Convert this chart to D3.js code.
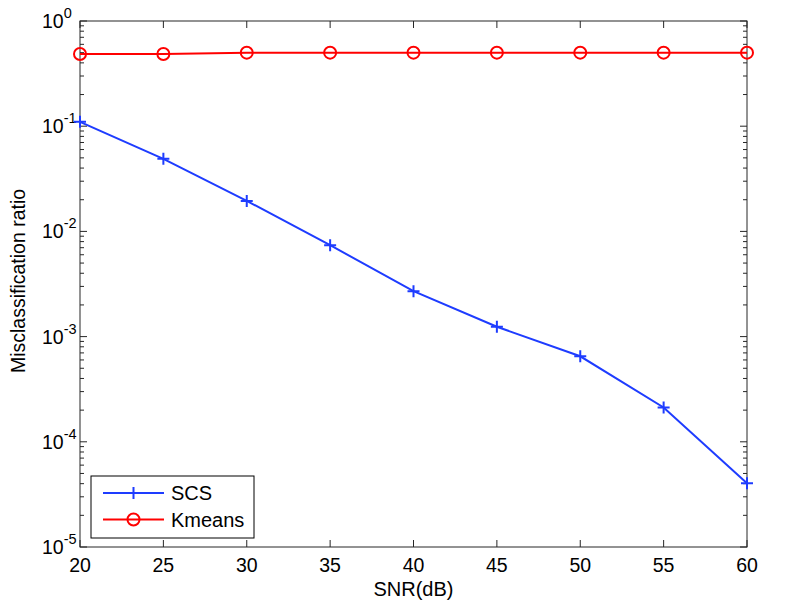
<!DOCTYPE html>
<html>
<head>
<meta charset="utf-8">
<script src="https://cdn.jsdelivr.net/npm/d3@7"></script>
<style>
  html, body { margin: 0; padding: 0; background: #fff; }
  text { font-family: "Liberation Sans", Arial, sans-serif; fill: #000; }
</style>
</head>
<body>
<svg id="chart" width="797" height="607"></svg>
<script>
// data
var snr = [20, 25, 30, 35, 40, 45, 50, 55, 60];
var scs = [0.11, 0.049, 0.0195, 0.0074, 0.0027, 0.00124, 0.00065, 0.000212, 0.0000403];
var kmeans = [0.485, 0.485, 0.5, 0.5, 0.5, 0.5, 0.5, 0.5, 0.5];
var xTicks = [20, 25, 30, 35, 40, 45, 50, 55, 60];
var yExps = [0, -1, -2, -3, -4, -5];
var seriesNames = ["SCS", "Kmeans"];

var blue = "#1e3cff", red = "#ff0000";

var pL = 80, pR = 747, pT = 21, pB = 547;
var svg = d3.select("#chart");

var x = d3.scaleLinear().domain([20, 60]).range([pL, pR]);
var y = d3.scaleLog().domain([1e-5, 1]).range([pB, pT]);

// minor log ticks
var minor = [];
for (var e = -5; e < 0; e++) {
  for (var m = 2; m <= 9; m++) minor.push(m * Math.pow(10, e));
}

var axes = svg.append("g").attr("stroke", "#262626").attr("stroke-width", 1);
axes.append("rect")
  .attr("x", pL).attr("y", pT)
  .attr("width", pR - pL).attr("height", pB - pT)
  .attr("fill", "none");

// x ticks bottom + top
xTicks.forEach(function (t) {
  axes.append("line").attr("x1", x(t)).attr("x2", x(t)).attr("y1", pB).attr("y2", pB - 7);
  axes.append("line").attr("x1", x(t)).attr("x2", x(t)).attr("y1", pT).attr("y2", pT + 7);
});
// y major ticks left + right
yExps.forEach(function (e) {
  var yy = y(Math.pow(10, e));
  axes.append("line").attr("x1", pL).attr("x2", pL + 7).attr("y1", yy).attr("y2", yy);
  axes.append("line").attr("x1", pR).attr("x2", pR - 7).attr("y1", yy).attr("y2", yy);
});
minor.forEach(function (v) {
  var yy = y(v);
  axes.append("line").attr("x1", pL).attr("x2", pL + 4).attr("y1", yy).attr("y2", yy);
  axes.append("line").attr("x1", pR).attr("x2", pR - 4).attr("y1", yy).attr("y2", yy);
});

// tick labels
svg.append("g").selectAll("text").data(xTicks).enter().append("text")
  .attr("x", function (d) { return x(d); })
  .attr("y", 572)
  .attr("text-anchor", "middle")
  .attr("font-size", 19.5)
  .text(function (d) { return d; });

var yl = svg.append("g").selectAll("text").data(yExps).enter().append("text")
  .attr("x", 42)
  .attr("y", function (d) { return y(Math.pow(10, d)) + 7; })
  .attr("font-size", 19.5);
yl.append("tspan").text("10");
yl.append("tspan").attr("dy", -10).attr("font-size", 14.5).text(function (d) { return d === 0 ? "0" : "-" + (-d); });

// axis titles
svg.append("text")
  .attr("x", (pL + pR) / 2).attr("y", 596)
  .attr("text-anchor", "middle").attr("font-size", 20)
  .text("SNR(dB)");
svg.append("text")
  .attr("transform", "translate(25,281) rotate(-90)")
  .attr("text-anchor", "middle").attr("font-size", 19.5)
  .text("Misclassification ratio");

// series
var line = d3.line()
  .x(function (d) { return x(d[0]); })
  .y(function (d) { return y(d[1]); });

var scsPts = d3.zip(snr, scs);
var kmPts = d3.zip(snr, kmeans);

var plot = svg.append("g");
plot.append("path").datum(kmPts).attr("d", line)
  .attr("fill", "none").attr("stroke", red).attr("stroke-width", 2);
plot.append("path").datum(scsPts).attr("d", line)
  .attr("fill", "none").attr("stroke", blue).attr("stroke-width", 2);

function plus(g, cx, cy, col) {
  g.append("path").attr("d", "M" + (cx - 6) + "," + cy + "h12M" + cx + "," + (cy - 6) + "v12")
    .attr("stroke", col).attr("stroke-width", 2).attr("fill", "none");
}
function circ(g, cx, cy, col) {
  g.append("circle").attr("cx", cx).attr("cy", cy).attr("r", 6)
    .attr("stroke", col).attr("stroke-width", 2).attr("fill", "none");
}
kmPts.forEach(function (d) { circ(plot, x(d[0]), y(d[1]), red); });
scsPts.forEach(function (d) { plus(plot, x(d[0]), y(d[1]), blue); });

// legend
var lg = svg.append("g");
lg.append("rect").attr("x", 91).attr("y", 476).attr("width", 163).attr("height", 62)
  .attr("fill", "#fff").attr("stroke", "#000").attr("stroke-width", 1);
var legCols = [blue, red];
seriesNames.forEach(function (name, i) {
  var ly = 493 + i * 26.5;
  lg.append("line").attr("x1", 103).attr("x2", 164).attr("y1", ly).attr("y2", ly)
    .attr("stroke", legCols[i]).attr("stroke-width", 2);
  if (i === 0) plus(lg, 133.5, ly, legCols[i]); else circ(lg, 133.5, ly, legCols[i]);
  lg.append("text").attr("x", 171).attr("y", ly + 7).attr("font-size", 20).text(name);
});
</script>
</body>
</html>
